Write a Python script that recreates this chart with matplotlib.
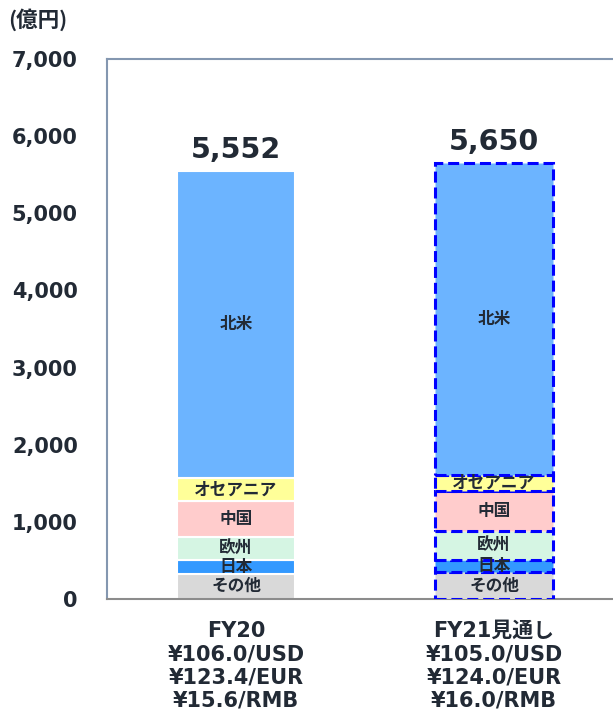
import matplotlib
matplotlib.use('Agg')
import matplotlib.pyplot as plt
from matplotlib.ticker import FuncFormatter

plt.rcParams['font.family'] = ['DejaVu Sans', 'Noto Sans CJK JP']

# data (億円)
categories = ['FY20', 'FY21見通し']
fx_rates = [['¥106.0/USD', '¥123.4/EUR', '¥15.6/RMB'],
            ['¥105.0/USD', '¥124.0/EUR', '¥16.0/RMB']]
regions = ['その他', '日本', '欧州', '中国', 'オセアニア', '北米']
other = [330, 350]
japan = [170, 150]
europe = [305, 380]
china = [465, 520]
oceania = [305, 210]
north_america = [3977, 4040]
yticks = [0, 1000, 2000, 3000, 4000, 5000, 6000, 7000]

series = [other, japan, europe, china, oceania, north_america]
colors = ['#d9d9d9', '#3399ff', '#d5f5e3', '#ffcccc', '#ffff99', '#6cb4ff']
TEXT = '#222a35'

fig = plt.figure(figsize=(6.13, 7.15), dpi=100)
ax = fig.add_axes([107/613, 1 - 599/715, 516/613, 540/715])

x = list(range(len(categories)))
bottoms = [0] * len(categories)
for name, vals, c in zip(regions, series, colors):
    for i in x:
        if i == 0:
            ax.bar(i, vals[i], width=0.457, bottom=bottoms[i], color=c,
                   edgecolor='white', linewidth=1.5, zorder=2)
        else:
            ax.bar(i, vals[i], width=0.457, bottom=bottoms[i], color=c,
                   edgecolor='#0000ff', linewidth=2.2,
                   linestyle=(0, (3.6, 1.6)), zorder=3)
        ax.text(i, bottoms[i] + vals[i] / 2, name, ha='center', va='center',
                fontsize=12, fontweight='bold', color=TEXT,
                family=['Noto Sans CJK JP'], zorder=4)
        bottoms[i] += vals[i]

for i, total in enumerate(bottoms):
    ax.annotate(f'{total:,}', (i, total), xytext=(0, 5),
                textcoords='offset points', ha='center', va='bottom',
                fontsize=20.5, fontweight='bold', color=TEXT)

ax.set_xlim(-0.5, 1.5)
ax.set_ylim(0, 7000)
ax.set_yticks(yticks)
ax.yaxis.set_major_formatter(FuncFormatter(lambda v, p: f'{int(v):,}'))
ax.set_xticks(x)
ax.set_xticklabels([c + '\n' + '\n'.join(r) for c, r in zip(categories, fx_rates)],
                   fontsize=15, fontweight='bold', color=TEXT,
                   linespacing=1.2)
for lab in ax.get_yticklabels():
    lab.set_fontsize(15)
    lab.set_fontweight('bold')
    lab.set_color(TEXT)
ax.tick_params(axis='y', length=0, pad=21)
ax.tick_params(axis='x', length=0, pad=16)

for side in ['left', 'top']:
    ax.spines[side].set_color('#8497b0')
    ax.spines[side].set_linewidth(1.5)
ax.spines['bottom'].set_color('#8c8c8c')
ax.spines['bottom'].set_linewidth(1.5)
ax.spines['right'].set_visible(False)

fig.text(8/613, 1 - 20/715, '(億円)', ha='left', va='center', fontsize=15.5,
         fontweight='bold', color=TEXT, family=['Noto Sans CJK JP'])

fig.savefig('out.png', dpi=100)
